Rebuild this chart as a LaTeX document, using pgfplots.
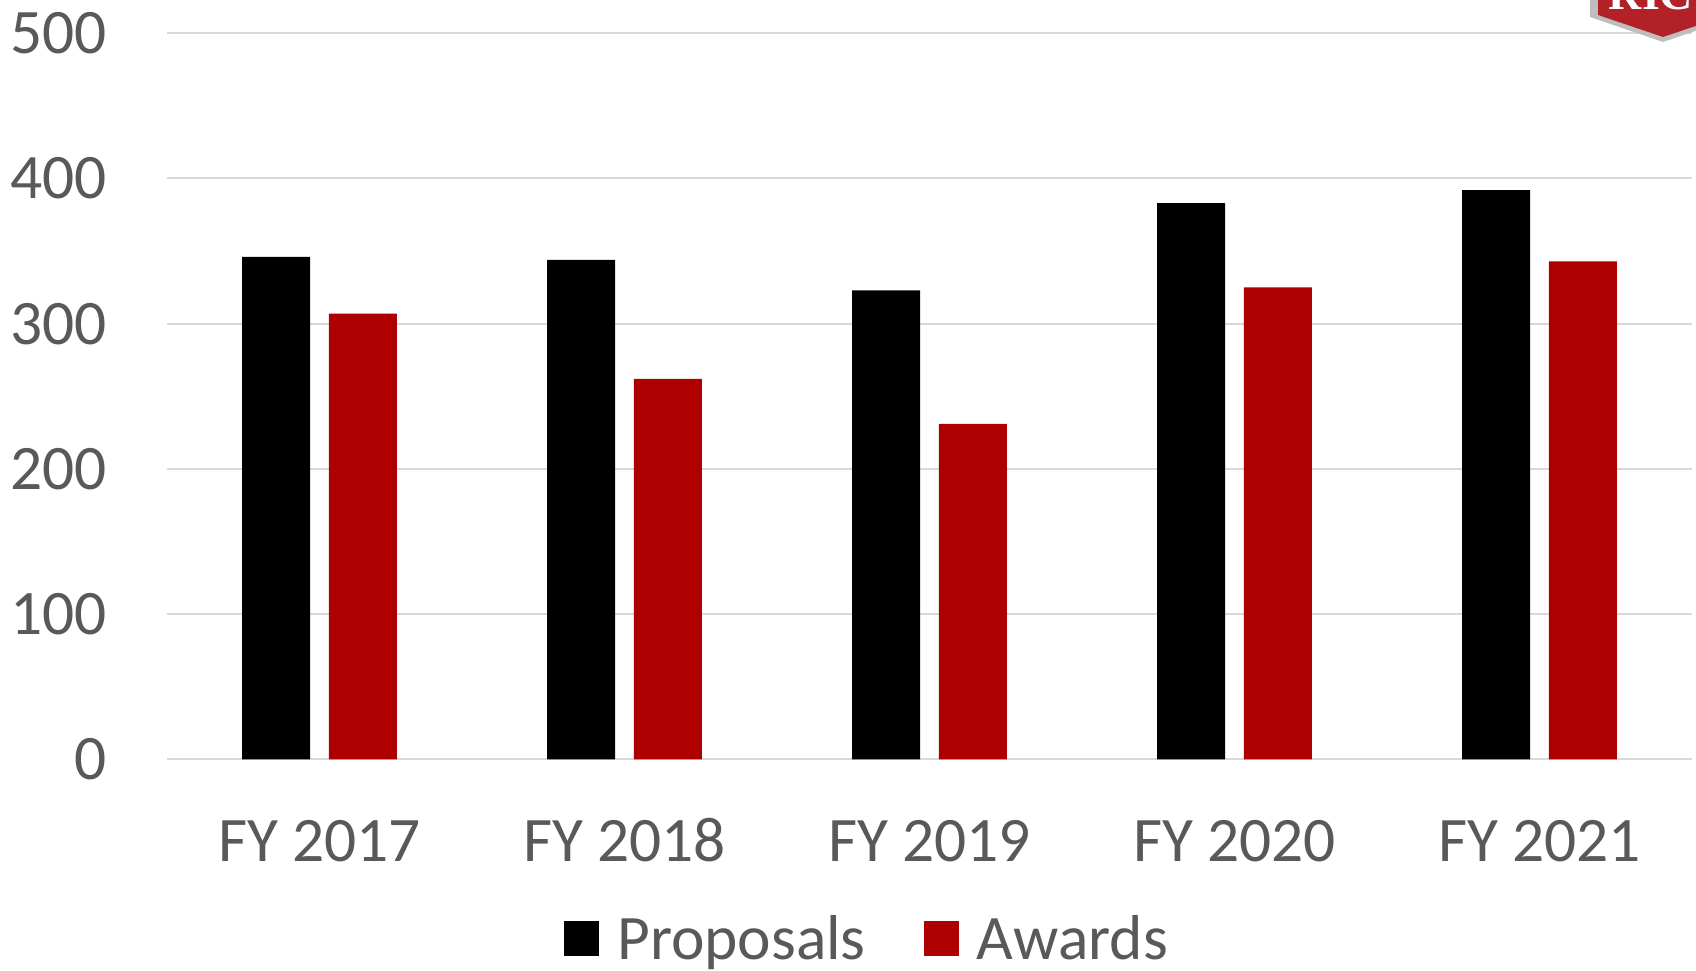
\documentclass[border=0pt]{standalone}
\usepackage{fontspec}
\setmainfont{Carlito}
\newfontfamily\logofont{Liberation Serif}
\usepackage{pgfplots}
\pgfplotsset{compat=1.18}
\definecolor{awardred}{RGB}{174,0,0}
\definecolor{labelgrey}{RGB}{89,89,89}
\definecolor{gridgrey}{RGB}{217,217,217}
\definecolor{logored}{RGB}{178,32,40}
\definecolor{logogrey}{RGB}{190,190,190}

\begin{document}
\begin{tikzpicture}
\path[use as bounding box] (0,0) rectangle (848pt,485pt);
\begin{axis}[
  at={(83.5pt,105.35pt)}, anchor=south west,
  width=762.5pt, height=363pt, scale only axis,
  ybar=9.4pt, bar width=34pt,
  enlargelimits=false,
  xmin=-0.5, xmax=4.5, ymin=0, ymax=500,
  xtick={0,...,4},
  xticklabels={FY 2017,FY 2018,FY 2019,FY 2020,FY 2021},
  ytick={0,100,...,500},
  axis line style={draw=none},
  major tick length=0pt,
  ymajorgrids, grid style={gridgrey, line width=1pt},
  tick label style={font=\fontsize{31.7}{38}\selectfont, text=labelgrey, inner sep=0pt},
  xticklabel style={anchor=base, yshift=-51.3pt},
  yticklabel style={anchor=east, xshift=-30pt},
  /pgf/number format/assume math mode=true,
  legend style={at={(0.4584,-0.2470)}, anchor=center, draw=none, fill=none,
    legend columns=-1, font=\fontsize{31.7}{38}\selectfont, text=labelgrey,
    /tikz/every odd column/.append style={column sep=9pt},
    /tikz/every even column/.append style={column sep=29pt},
    nodes={inner sep=0pt}},
  legend image code/.code={\fill[#1] (0pt,-8.45pt) rectangle (17.5pt,9.05pt);},
]
% Proposals
\addplot[draw=none, fill=black] coordinates {(0,346) (1,344) (2,323) (3,383) (4,392)};
\addlegendentry{Proposals}
% Awards
\addplot[draw=none, fill=awardred] coordinates {(0,307) (1,262) (2,231) (3,325) (4,343)};
\addlegendentry{Awards}
\end{axis}
% cropped logo in the top right corner
\begin{scope}
\clip (0,0) rectangle (848pt,485pt);
\fill[logogrey] (795pt,490pt) -- (795pt,476.5pt) -- (831.5pt,464pt) -- (868pt,476.5pt) -- (868pt,490pt) -- cycle;
\fill[logored] (799pt,490pt) -- (799pt,477.5pt) -- (831.5pt,466.5pt) -- (864pt,477.5pt) -- (864pt,490pt) -- cycle;
\node[anchor=base, text=white, font=\logofont\bfseries\fontsize{23}{23}\selectfont, inner sep=0pt] at (825.5pt,480pt) {RIC};
\end{scope}
\end{tikzpicture}
\end{document}
